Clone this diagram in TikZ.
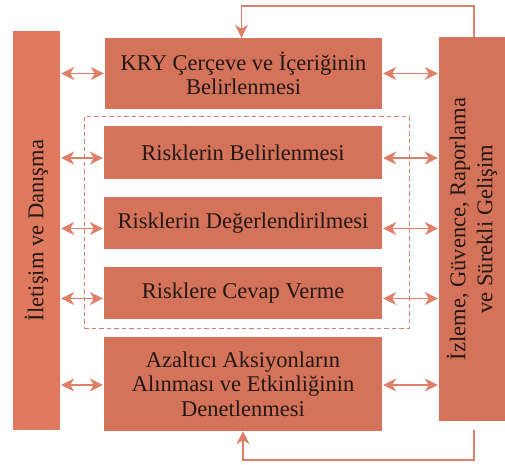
\documentclass[tikz,border=0pt]{standalone}
\usepackage{fontspec}
\setmainfont{Liberation Serif}
\usetikzlibrary{arrows.meta,calc}
\definecolor{boxc}{HTML}{D4735A}
\definecolor{barl}{HTML}{E07A5F}
\definecolor{linec}{HTML}{DD8067}
\definecolor{txt}{HTML}{231815}
\tikzset{
  stagebox/.style={fill=boxc,draw=none,inner sep=0pt,align=center,text=txt,
    font=\fontsize{22.5}{24.5}\selectfont},
  sidebar/.style={draw=none,inner sep=0pt,align=center,text=txt,
    font=\fontsize{22.5}{27}\selectfont},
  tip/.tip={Stealth[length=13pt,width=13pt,inset=4pt]},
  dbl/.style={linec,line width=1.6pt,tip-tip,shorten <=1pt,shorten >=1pt},
  fb/.style={linec,line width=1.6pt,-tip},
  dashbox/.style={linec,line width=1pt,dash pattern=on 4.5pt off 3pt}
}
\begin{document}
\begin{tikzpicture}[x=1pt,y=-1pt]
\useasboundingbox (0,0) rectangle (505,464);
% side bars
\node[sidebar,fill=barl,minimum width=47pt,minimum height=399pt] (lb) at (36.5,230.5) {};
\node[rotate=90,text=txt,font=\fontsize{22.5}{27}\selectfont] (lt) at (lb.center) {İletişim ve Danışma};
\node[sidebar,fill=boxc,minimum width=66pt,minimum height=384pt] (rb) at (472,229) {};
\node[rotate=90,text=txt,align=center,font=\fontsize{22.5}{27}\selectfont] (rt) at (rb.center) {İzleme, Güvence, Raporlama\\ve Sürekli Gelişim};
% dashed frame
\node[dashbox,draw,minimum width=325pt,minimum height=212pt,inner sep=0pt] (df) at (246.5,222) {};
% stage boxes
\node[stagebox,minimum width=277pt,minimum height=71pt] (b1) at (243.5,73.5) {KRY Çerçeve ve İçeriğinin\\Belirlenmesi};
\node[stagebox,minimum width=278pt,minimum height=53pt] (b2) at (243,152.5) {Risklerin Belirlenmesi};
\node[stagebox,minimum width=278pt,minimum height=52pt] (b3) at (243,223) {Risklerin Değerlendirilmesi};
\node[stagebox,minimum width=278pt,minimum height=52pt] (b4) at (243,293) {Risklere Cevap Verme};
\node[stagebox,minimum width=278pt,minimum height=94pt] (b5) at (243,384) {Azaltıcı Aksiyonların\\Alınması ve Etkinliğinin\\Denetlenmesi};
% double arrows
\draw[dbl] (lb.east |- b1.west) -- (b1.west);
\draw[dbl] (b1.east) -- (rb.west |- b1.east);
\foreach \b in {b2,b3,b4}{
  \draw[dbl] ($(lb.east |- \b.west)+(0,5.5)$) -- ($(\b.west)+(0,5.5)$);
  \draw[dbl] ($(\b.east)+(0,5.5)$) -- ($(rb.west |- \b.east)+(0,5.5)$);
}
\draw[dbl] ($(lb.east |- b5.west)+(0,1)$) -- ($(b5.west)+(0,1)$);
\draw[dbl] ($(b5.east)+(0,1)$) -- ($(rb.west |- b5.east)+(0,1)$);
% feedback loops
\coordinate (ttop) at (474,6);
\coordinate (tbot) at (474,460);
\draw[fb] ([xshift=2pt]rb.north) -- (ttop) -| ([xshift=-2pt]b1.north);
\draw[fb] ([xshift=2pt,yshift=-9pt]rb.south) -- (tbot) -| (b5.south);
\end{tikzpicture}
\end{document}
